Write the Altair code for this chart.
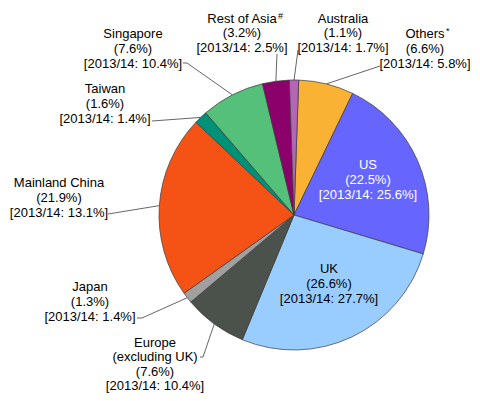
import math
import altair as alt
import pandas as pd

# ---- data ----
regions = ["Others*", "US", "UK", "Europe (excluding UK)", "Japan",
           "Mainland China", "Taiwan", "Singapore", "Rest of Asia#", "Australia"]
shares = [6.6, 22.5, 26.6, 7.6, 1.3, 21.9, 1.6, 7.6, 3.2, 1.1]
prev_shares = [5.8, 25.6, 27.7, 10.4, 1.4, 13.1, 1.4, 10.4, 2.5, 1.7]
label_names = [["Others"], ["US"], ["UK"], ["Europe", "(excluding UK)"], ["Japan"],
               ["Mainland China"], ["Taiwan"], ["Singapore"], ["Rest of Asia"], ["Australia"]]
label_marks = {"Others*": "*", "Rest of Asia#": "#"}

# ---- styles / layout ----
colors = ["#F9B233", "#6666FF", "#99CCFF", "#4B524C", "#A0A0A0",
          "#F55316", "#009278", "#55C07A", "#8B006B", "#B366B3"]
label_colors = ["black", "white", "black", "black", "black",
                "black", "black", "black", "black", "black"]
CX, CY, R = 294, 215, 135            # pie centre / radius (page pixels)
OFFSET = math.radians(2)             # rotation of the first slice
# label block: (centre x, first-line centre y, line spacing)
label_pos = {
    "Others*": (425, 33, 15), "US": (368, 164, 15), "UK": (329, 268, 15),
    "Europe (excluding UK)": (155, 342, 14.5), "Japan": (90, 286, 15),
    "Mainland China": (59, 182, 15), "Taiwan": (105, 88, 15),
    "Singapore": (133, 33, 15),
    "Rest of Asia#": (242, 18, 14.5), "Australia": (343, 18, 14.5),
}
# superscript mark position relative to the first line (dx from label centre)
mark_dx = {"Others*": 21, "Rest of Asia#": 36}
# leader lines: list of points from the label to the rim (rim appended)
leader_pts = {
    "Others*": [(380, 66)],
    "Europe (excluding UK)": [(200, 357), (203, 357)],
    "Japan": [(137, 318), (142, 318)],
    "Mainland China": [(108, 214)],
    "Taiwan": [(152, 121)],
    "Singapore": [(183, 63), (187, 63)],
    "Rest of Asia#": [(277, 54)],
    "Australia": [(298, 50)],
}

W, H = 464, 385
xs = alt.Scale(domain=[8, 8 + W], range=[0, W], nice=False, zero=False)
ys = alt.Scale(domain=[8, 8 + H], range=[0, H], nice=False, zero=False)

pie_df = pd.DataFrame({"region": regions, "share": shares,
                       "idx": list(range(len(regions)))})

pie = alt.Chart(pie_df).mark_arc(outerRadius=R, stroke="#3a3a3a",
                                 strokeWidth=0.7).encode(
    theta=alt.Theta("share:Q", stack=True,
                    scale=alt.Scale(range=[OFFSET, OFFSET + 2 * math.pi])),
    color=alt.Color("region:N", scale=alt.Scale(domain=regions, range=colors),
                    legend=None),
    order=alt.Order("idx:Q"),
    x=alt.value(CX - 8), y=alt.value(CY - 8),
)

# labels
rows = []
mrows = []
for i, r in enumerate(regions):
    lines = label_names[i] + [f"({shares[i]}%)", f"[2013/14: {prev_shares[i]}%]"]
    x0, y0, sp = label_pos[r]
    for k, t in enumerate(lines):
        rows.append({"region": r, "text": t, "x": x0, "y": y0 + k * sp + 4.5,
                     "tc": label_colors[i]})
    if r in label_marks:
        mrows.append({"text": label_marks[r], "x": x0 + mark_dx[r], "y": y0 + 1})
lab_df = pd.DataFrame(rows)
labels = alt.Chart(lab_df).mark_text(font="Liberation Sans", fontSize=13,
                                     align="center", baseline="alphabetic").encode(
    x=alt.X("x:Q", scale=xs, axis=None),
    y=alt.Y("y:Q", scale=ys, axis=None),
    text="text:N",
    color=alt.Color("tc:N", scale=None),
)
marks = alt.Chart(pd.DataFrame(mrows)).mark_text(
    font="Liberation Sans", fontSize=9, align="left", baseline="alphabetic",
    color="black").encode(
    x=alt.X("x:Q", scale=xs, axis=None),
    y=alt.Y("y:Q", scale=ys, axis=None),
    text="text:N",
)

# leader lines (rim point from the slice mid-angle)
lrows = []
cum = 0.0
for i, r in enumerate(regions):
    mid = OFFSET + 2 * math.pi * (cum + shares[i] / 2) / 100.0
    cum += shares[i]
    if r not in leader_pts:
        continue
    pts = leader_pts[r] + [(CX + R * math.sin(mid), CY - R * math.cos(mid))]
    for k, (px, py) in enumerate(pts):
        lrows.append({"region": r, "k": k, "x": px, "y": py})
lead_df = pd.DataFrame(lrows)
leaders = alt.Chart(lead_df).mark_line(color="#666666", strokeWidth=1).encode(
    x=alt.X("x:Q", scale=xs, axis=None),
    y=alt.Y("y:Q", scale=ys, axis=None),
    detail="region:N",
    order="k:Q",
)

chart = alt.layer(leaders, pie, labels, marks).properties(
    width=W, height=H, padding=0, autosize="none", background="white"
).configure_view(stroke=None)

chart.save("out.html", embed_options={"renderer": "svg", "actions": False})
